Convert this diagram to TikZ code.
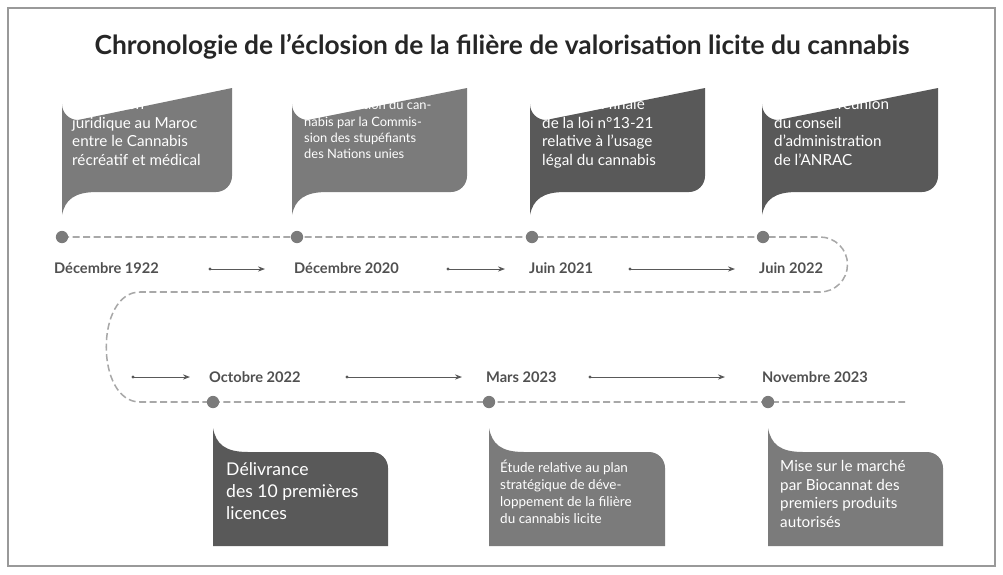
\documentclass[tikz,border=0pt]{standalone}
\usepackage{fontspec}
\setmainfont{Lato}
\usetikzlibrary{arrows.meta}
\definecolor{mid}{HTML}{7B7B7B}
\definecolor{dark}{HTML}{595959}
\definecolor{line}{HTML}{A8A8A8}
\begin{document}
\begin{tikzpicture}[x=0.03cm,y=-0.03cm,
  ctext/.style={anchor=north west,text=white,font=\fontsize{13}{16}\selectfont,align=left,inner sep=0pt},
  date/.style={font=\bfseries\fontsize{12.5}{14}\selectfont,text=dark!90!black},
  dot/.style={circle,fill=mid,minimum size=10.5pt,inner sep=0pt},
  arr/.style={-{Stealth[length=6pt]},dark,line width=0.8pt},
  tline/.style={line,dashed,dash pattern=on 6pt off 3pt,line width=1.3pt}]
\useasboundingbox (0,0) rectangle (1003,574);
\draw[line width=2.5pt,gray!80] (8,8) rectangle (995,566);
\node[font=\fontsize{22.5}{26}\selectfont\bfseries,text=black!85] (title) at (502,47) {Chronologie de l’éclosion de la filière de valorisation licite du cannabis};
% top callouts
\newcommand\topcall[3]{\fill[#3] (#1,215) -- (#1,104) arc[start angle=180,end angle=90,radius=16] -- (#2,88) -- (#2,176) arc[start angle=0,end angle=90,radius=16] -- ({#1+35},192) .. controls ({#1+12},192) and ({#1+3},200) .. (#1,215) -- cycle;}
\topcall{62}{232}{mid}
\topcall{292}{467}{mid}
\topcall{530}{705}{dark}
\topcall{762}{938}{dark}
\node[ctext] (c1) at (72,98) {Séparation\\juridique au Maroc\\entre le Cannabis\\récréatif et médical};
\node[ctext,font=\fontsize{11}{14}\selectfont] (c2) at (304,100) {Recalcification du can-\\nabis par la Commis-\\sion des stupéfiants\\des Nations unies};
\node[ctext] (c3) at (542,98) {Adoption finale\\de la loi n°13-21\\relative à l’usage\\légal du cannabis};
\node[ctext] (c4) at (774,98) {Première réunion\\du conseil\\d’administration\\de l’ANRAC};
% bottom callouts
\newcommand\botcall[3]{\fill[#3] (#1,428) -- (#1,546) -- (#2,546) -- (#2,468) arc[start angle=0,end angle=-90,radius=16] -- ({#1+35},452) .. controls ({#1+12},452) and ({#1+3},444) .. (#1,428) -- cycle;}
\botcall{213}{388}{dark}
\botcall{489}{665}{mid}
\botcall{768}{943}{mid}
\node[ctext,font=\fontsize{15}{19}\selectfont] (c5) at (226,462) {Délivrance\\des 10 premières\\licences};
\node[ctext,font=\fontsize{11.5}{14.5}\selectfont] (c6) at (500,460) {Étude relative au plan\\stratégique de déve-\\loppement de la filière\\du cannabis licite};
\node[ctext] (c7) at (780,460) {Mise sur le marché\\par Biocannat des\\premiers produits\\autorisés};
% timeline
\coordinate (p0) at (62,237);
\coordinate (p4) at (905,402);
\draw[tline] (p0) -- (820,237) arc[start angle=-90,end angle=90,radius=27.5] -- (140,292)
  .. controls (95,292) and (95,402) .. (140,402) -- (p4);
\node[dot] (d1) at (62,237) {};
\node[dot] (d2) at (297,237) {};
\node[dot] (d3) at (532,237) {};
\node[dot] (d4) at (763,237) {};
\node[dot] (d5) at (213,402) {};
\node[dot] (d6) at (489,402) {};
\node[dot] (d7) at (768,402) {};
\node[date,anchor=west] (t1) at (50,268) {Décembre 1922};
\node[date,anchor=west] (t2) at (290,268) {Décembre 2020};
\node[date,anchor=west] (t3) at (525,268) {Juin 2021};
\node[date,anchor=west] (t4) at (755,268) {Juin 2022};
\node[date,anchor=west] (t5) at (205,377) {Octobre 2022};
\node[date,anchor=west] (t6) at (482,377) {Mars 2023};
\node[date,anchor=west] (t7) at (758,377) {Novembre 2023};
\coordinate (a1) at (210,269); \coordinate (b1) at (265,269);
\coordinate (a2) at (448,269); \coordinate (b2) at (505,269);
\coordinate (a3) at (630,269); \coordinate (b3) at (735,269);
\coordinate (a4) at (133,377); \coordinate (b4) at (190,377);
\coordinate (a5) at (347,377); \coordinate (b5) at (462,377);
\coordinate (a6) at (590,377); \coordinate (b6) at (725,377);
\foreach \i in {1,...,6}{\fill[dark] (a\i) circle (1.3pt); \draw[arr] (a\i) -- (b\i);}
\end{tikzpicture}
\end{document}
